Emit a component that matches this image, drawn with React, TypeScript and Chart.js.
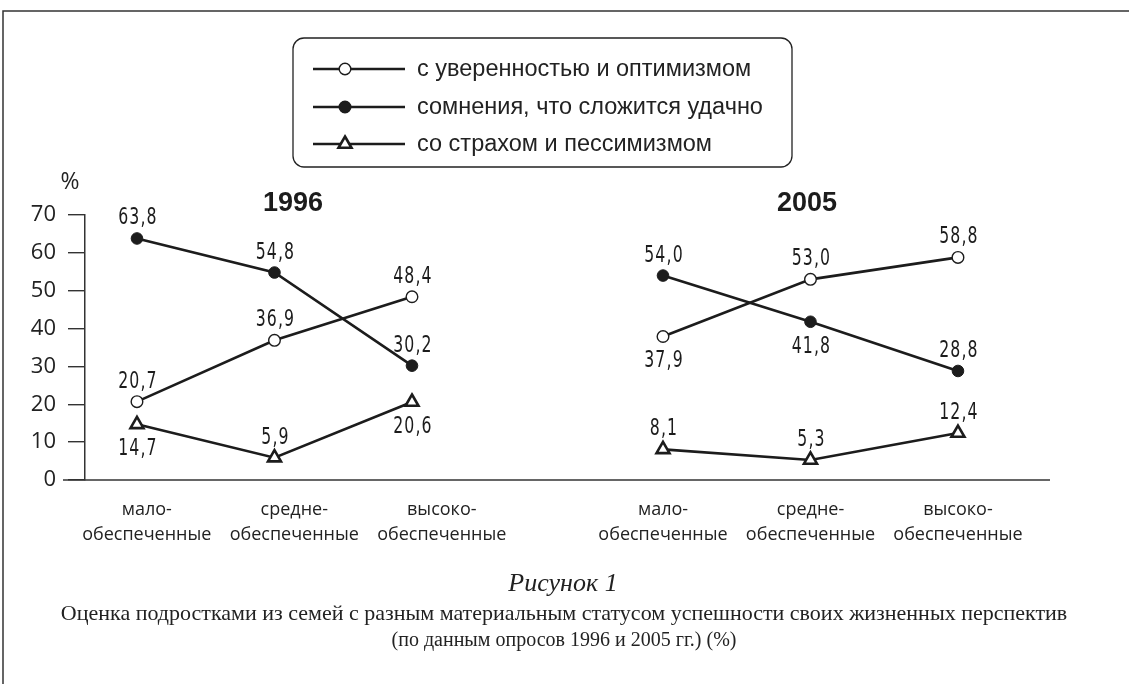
import React, { useEffect, useRef } from 'react';
import { Chart, registerables } from 'chart.js';

Chart.register(...registerables);

// ---------- data ----------
const categoryTop = ['мало-', 'средне-', 'высоко-'];
const categoryBottom = ['обеспеченные', 'обеспеченные', 'обеспеченные'];
const years = ['1996', '2005'];
const seriesNames = [
  'с уверенностью и оптимизмом',
  'сомнения, что сложится удачно',
  'со страхом и пессимизмом',
];
const optimism1996 = [20.7, 36.9, 48.4];
const doubt1996 = [63.8, 54.8, 30.2];
const fear1996 = [14.7, 5.9, 20.6];
const optimism2005 = [37.9, 53.0, 58.8];
const doubt2005 = [54.0, 41.8, 28.8];
const fear2005 = [8.1, 5.3, 12.4];
const yMin = 0;
const yMax = 70;
const yStep = 10;
const yUnit = '%';
const captionTitle = 'Рисунок 1';
const captionLine1 = 'Оценка подростками из семей с разным материальным статусом успешности своих жизненных перспектив';
const captionLine2 = '(по данным опросов 1996 и 2005 гг.) (%)';

// label placement per point (above / below the marker)
const sideOpt1996 = ['above', 'above', 'above'];
const sideDoubt1996 = ['above', 'above', 'above'];
const sideFear1996 = ['below', 'above', 'below'];
const sideOpt2005 = ['below', 'above', 'above'];
const sideDoubt2005 = ['above', 'below', 'above'];
const sideFear2005 = ['above', 'above', 'above'];

const INK = '#1c1c1c';
const LABEL_FONT = '"Liberation Sans Narrow", "DejaVu Sans Condensed", "Arial Narrow", sans-serif';
const UI_FONT = '"Open Sans", "Noto Sans", sans-serif';

type Style = 'open' | 'filled' | 'triangle';
const styles: Style[] = ['open', 'filled', 'triangle'];

function pointOpts(s: Style) {
  if (s === 'open')
    return { pointStyle: 'circle', pointRadius: 5.8, pointBackgroundColor: '#fff', pointBorderColor: INK, pointBorderWidth: 1.4 };
  if (s === 'filled')
    return { pointStyle: 'circle', pointRadius: 5.8, pointBackgroundColor: INK, pointBorderColor: INK, pointBorderWidth: 1 };
  return { pointStyle: 'triangle', pointRadius: 7.5, pointBackgroundColor: '#fff', pointBorderColor: INK, pointBorderWidth: 2.6 };
}

function makeDs(idx: number, values: number[], axis: string, sides: string[]) {
  return {
    label: seriesNames[idx],
    data: values.map((v, i) => ({ x: i, y: v })),
    xAxisID: axis,
    yAxisID: 'y',
    borderColor: INK,
    borderWidth: 2.6,
    fill: false,
    tension: 0,
    clip: false as any,
    labelSides: sides,
    ...pointOpts(styles[idx]),
  } as any;
}

function fmt(v: number) {
  return v.toFixed(1).replace('.', ',');
}

function drawMarker(ctx: CanvasRenderingContext2D, s: Style, x: number, y: number) {
  ctx.save();
  ctx.strokeStyle = INK;
  if (s === 'triangle') {
    const r = 7.5;
    ctx.lineWidth = 2.6;
    ctx.beginPath();
    ctx.moveTo(x, y - r);
    ctx.lineTo(x + r * Math.sin(Math.PI / 3), y + r / 2);
    ctx.lineTo(x - r * Math.sin(Math.PI / 3), y + r / 2);
    ctx.closePath();
    ctx.fillStyle = '#fff';
    ctx.fill();
    ctx.stroke();
  } else {
    ctx.lineWidth = 1.4;
    ctx.beginPath();
    ctx.arc(x, y, 5.8, 0, Math.PI * 2);
    ctx.fillStyle = s === 'open' ? '#fff' : INK;
    ctx.fill();
    ctx.stroke();
  }
  ctx.restore();
}

const decor = {
  id: 'decor',
  beforeDatasetsDraw(chart: any) {
    const ctx: CanvasRenderingContext2D = chart.ctx;
    const { chartArea, scales } = chart;
    const y0 = scales.y.getPixelForValue(0);
    ctx.save();
    ctx.strokeStyle = '#333';
    ctx.lineWidth = 1.5;
    ctx.beginPath();
    ctx.moveTo(chartArea.left - 22, y0);
    ctx.lineTo(chartArea.right, y0);
    ctx.stroke();
    ctx.restore();
  },
  afterDraw(chart: any) {
    const ctx: CanvasRenderingContext2D = chart.ctx;
    const { scales } = chart;
    const W = chart.width;
    const H = chart.height;
    ctx.save();

    // frame
    ctx.strokeStyle = '#333';
    ctx.lineWidth = 1.5;
    ctx.beginPath();
    ctx.moveTo(3, H);
    ctx.lineTo(3, 11);
    ctx.lineTo(W, 11);
    ctx.stroke();

    // data labels (condensed)
    ctx.fillStyle = INK;
    ctx.font = `23px ${LABEL_FONT}`;
    (ctx as any).letterSpacing = '1.5px';
    ctx.textAlign = 'center';
    ctx.textBaseline = 'middle';
    chart.data.datasets.forEach((ds: any, di: number) => {
      const meta = chart.getDatasetMeta(di);
      meta.data.forEach((pt: any, i: number) => {
        const v = ds.data[i].y;
        const side = ds.labelSides[i];
        const dy = side === 'above' ? -20 : 25;
        ctx.save();
        ctx.translate(pt.x + 1, pt.y + dy);
        ctx.scale(0.76, 1);
        ctx.fillText(fmt(v), 0, 0);
        ctx.restore();
      });
    });
    (ctx as any).letterSpacing = '0px';

    // unit
    ctx.font = `23px ${UI_FONT}`;
    ctx.fillStyle = '#222';
    ctx.textAlign = 'center';
    ctx.fillText(yUnit, 70, 182);

    // year titles
    ctx.font = `bold 27px "Liberation Sans", Arial, sans-serif`;
    ctx.fillStyle = INK;
    ctx.fillText(years[0], 293, 204);
    ctx.fillText(years[1], 807, 204);

    // category labels (two lines)
    ctx.font = `18px ${UI_FONT}`;
    ctx.fillStyle = '#222';
    const xl = scales.x05;
    for (let g = 0; g < 2; g++) {
      for (let i = 0; i < 3; i++) {
        const x = xl.getPixelForValue(i - (g === 0 ? 3.5 : 0));
        ctx.fillText(categoryTop[i], x, 510);
        ctx.fillText(categoryBottom[i], x, 535);
      }
    }

    // legend box
    const bx = 293, by = 38, bw = 499, bh = 129, r = 11;
    ctx.strokeStyle = '#222';
    ctx.lineWidth = 1.3;
    ctx.beginPath();
    ctx.moveTo(bx + r, by);
    ctx.lineTo(bx + bw - r, by);
    ctx.arcTo(bx + bw, by, bx + bw, by + r, r);
    ctx.lineTo(bx + bw, by + bh - r);
    ctx.arcTo(bx + bw, by + bh, bx + bw - r, by + bh, r);
    ctx.lineTo(bx + r, by + bh);
    ctx.arcTo(bx, by + bh, bx, by + bh - r, r);
    ctx.lineTo(bx, by + r);
    ctx.arcTo(bx, by, bx + r, by, r);
    ctx.closePath();
    ctx.stroke();

    const rows = [69, 107, 144];
    ctx.font = `23.5px "Liberation Sans", Arial, sans-serif`;
    ctx.textAlign = 'left';
    for (let k = 0; k < 3; k++) {
      const y = rows[k];
      ctx.strokeStyle = INK;
      ctx.lineWidth = 2.6;
      ctx.beginPath();
      ctx.moveTo(313, y);
      ctx.lineTo(405, y);
      ctx.stroke();
      drawMarker(ctx, styles[k], 345, y);
      ctx.fillStyle = '#222';
      ctx.fillText(seriesNames[k], 417, y + 1);
    }

    // caption
    ctx.textAlign = 'center';
    ctx.fillStyle = '#222';
    ctx.font = `italic 26px "Liberation Serif", "DejaVu Serif", serif`;
    ctx.fillText(captionTitle, 563, 584);
    ctx.font = `22px "Liberation Serif", "DejaVu Serif", serif`;
    ctx.fillText(captionLine1, 564, 614);
    ctx.font = `20px "Liberation Serif", "DejaVu Serif", serif`;
    ctx.fillText(captionLine2, 564, 641);

    ctx.restore();
  },
};

export default function App() {
  const ref = useRef<HTMLCanvasElement | null>(null);
  useEffect(() => {
    document.body.style.margin = '0';
    const canvas = ref.current;
    if (!canvas) return;
    const chart = new Chart(canvas, {
      type: 'line',
      data: {
        datasets: [
          makeDs(0, optimism1996, 'x96', sideOpt1996),
          makeDs(1, doubt1996, 'x96', sideDoubt1996),
          makeDs(2, fear1996, 'x96', sideFear1996),
          makeDs(0, optimism2005, 'x05', sideOpt2005),
          makeDs(1, doubt2005, 'x05', sideDoubt2005),
          makeDs(2, fear2005, 'x05', sideFear2005),
        ],
      },
      options: {
        animation: false,
        responsive: false,
        devicePixelRatio: 1,
        layout: { padding: { left: 0, right: 79, top: 215, bottom: 204 } },
        plugins: { legend: { display: false }, tooltip: { enabled: false }, title: { display: false } },
        scales: {
          x96: { type: 'linear', display: false, min: -0.378, max: 6.64 },
          x05: { type: 'linear', display: false, min: -3.919, max: 2.624 },
          y: {
            type: 'linear',
            position: 'left',
            min: yMin,
            max: yMax,
            afterFit: (s: any) => { s.width = 85; },
            ticks: {
              stepSize: yStep,
              color: '#222',
              padding: 12,
              font: { family: UI_FONT, size: 22 },
            },
            grid: { drawOnChartArea: false, drawTicks: true, tickLength: 17, color: '#333', lineWidth: 1.4 },
            border: { display: true, color: '#333', width: 1.5 },
          },
        },
      } as any,
      plugins: [decor],
    });
    return () => chart.destroy();
  }, []);
  return (
    <div style={{ width: 1129, height: 684, background: '#fff' }}>
      <canvas ref={ref} width={1129} height={684} style={{ display: 'block' }} />
    </div>
  );
}
